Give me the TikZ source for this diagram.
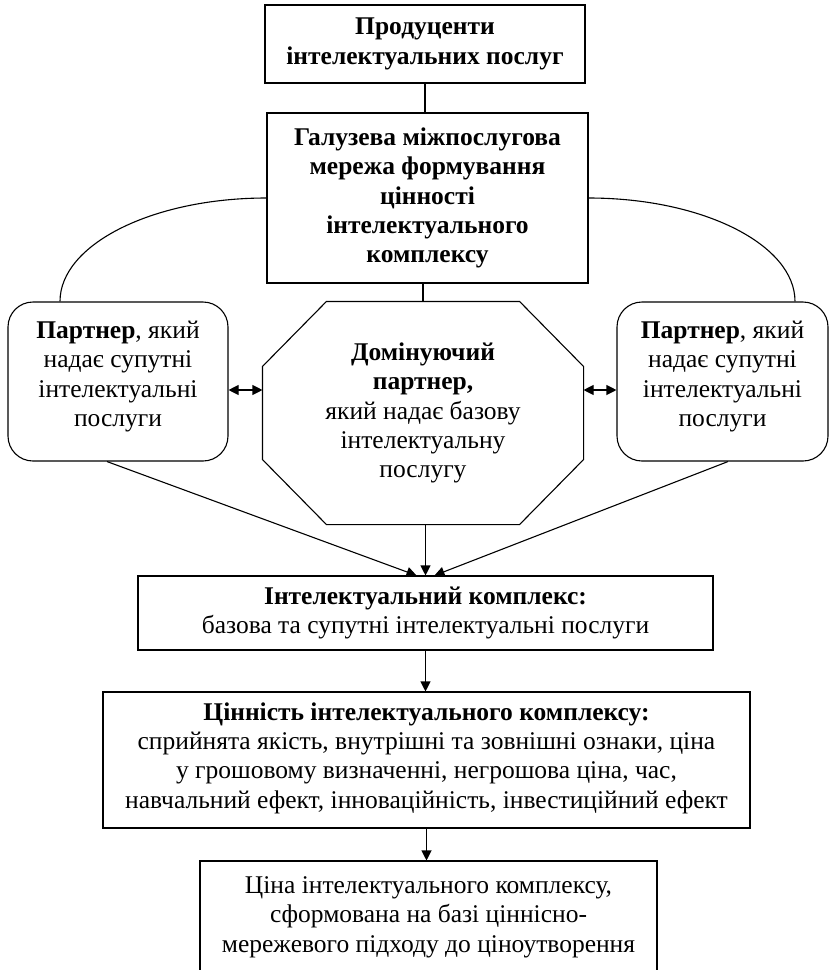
\documentclass[tikz,border=0pt]{standalone}
\usepackage{fontspec}
\setmainfont{Liberation Serif}
\usetikzlibrary{arrows.meta,calc}
\newcommand{\mysize}{\fontsize{25.5}{29.3}\selectfont}
\begin{document}
\begin{tikzpicture}[x=1pt,y=-1pt,line width=1.1pt,
  box/.style={draw,align=center,inner sep=0pt,font=\mysize},
  plain/.style={align=center,inner sep=0pt,font=\mysize},
  arr/.style={-{Triangle[length=10pt,width=10pt]}},
  dbl/.style={{Triangle[length=10pt,width=10pt]}-{Triangle[length=10pt,width=10pt]}}]
\clip (0,0) rectangle (829,970);

\node[box,minimum width=320pt,minimum height=78pt] (top) at (425,44)
  {\textbf{Продуценти}\\\textbf{інтелектуальних послуг}};
\node[box,minimum width=321pt,minimum height=170pt] (gal) at (427.5,198)
  {\textbf{Галузева міжпослугова}\\\textbf{мережа формування}\\\textbf{цінності}\\\textbf{інтелектуального}\\\textbf{комплексу}};
\node[box,rounded corners=25pt,minimum width=220pt,minimum height=159pt] (pl) at (118,381.5) {};
\node[plain] (plt) at ([yshift=5pt]pl.center)
  {\textbf{Партнер}, який\\надає супутні\\інтелектуальні\\послуги};
\node[box,rounded corners=25pt,minimum width=211pt,minimum height=159pt] (pr) at (722.5,381.5) {};
\node[plain] (prt) at ([yshift=5pt]pr.center)
  {\textbf{Партнер}, який\\надає супутні\\інтелектуальні\\послуги};
\node[plain,minimum width=320pt,minimum height=222pt] (oct) at (423,413)
  {\textbf{Домінуючий}\\\textbf{партнер,}\\який надає базову\\інтелектуальну\\послугу};
\draw ([xshift=64pt]oct.north west) -- ([xshift=-64pt]oct.north east)
  -- ([yshift=-65pt]oct.north east) -- ([yshift=65pt]oct.south east)
  -- ([xshift=-64pt]oct.south east) -- ([xshift=64pt]oct.south west)
  -- ([yshift=65pt]oct.south west) -- ([yshift=-65pt]oct.north west) -- cycle;
\node[box,minimum width=575pt,minimum height=74pt] (ik) at (425.5,613)
  {\textbf{Інтелектуальний комплекс:}\\базова та супутні інтелектуальні послуги};
\node[box,minimum width=647pt,minimum height=136pt] (cn) at (426.5,760) {};
\node[plain] (cnt) at ([yshift=2pt]cn.center)
  {\textbf{Цінність інтелектуального комплексу:}\\сприйнята якість, внутрішні та зовнішні ознаки, ціна\\у грошовому визначенні, негрошова ціна, час,\\навчальний ефект, інноваційність, інвестиційний ефект};
\node[box,minimum width=457pt,minimum height=112pt] (price) at (428.5,917)
  {Ціна інтелектуального комплексу,\\сформована на базі ціннісно-\\мережевого підходу до ціноутворення};

% connectors
\draw (top.south) -- (top.south |- gal.north);
\draw (oct.north |- gal.south) -- (oct.north);
\coordinate (cl) at ([xshift=-58pt]pl.north);
\coordinate (cr) at ([xshift=72.5pt]pr.north);
\draw (gal.west) .. controls +(-114,0) and +(0,-57) .. (cl);
\draw (gal.east) .. controls +(114,0) and +(0,-57) .. (cr);
\coordinate (dl) at ([yshift=-8.5pt]pl.east);
\coordinate (dr) at ([yshift=-8.5pt]pr.west);
\draw[dbl] (dl) -- (dl -| oct.west);
\draw[dbl] (dr -| oct.east) -- (dr);
\coordinate (sl) at ([xshift=-11pt]pl.south);
\coordinate (sr) at ([xshift=5.5pt]pr.south);
\draw[arr] (sl) -- ([xshift=-9pt]ik.north);
\draw[arr] (sr) -- ([xshift=9pt]ik.north);
\draw[arr] (ik.north |- oct.south) -- (ik.north);
\draw[arr] (ik.south) -- (ik.south |- cn.north);
\draw[arr] (cn.south) -- (cn.south |- price.north);
\end{tikzpicture}
\end{document}
